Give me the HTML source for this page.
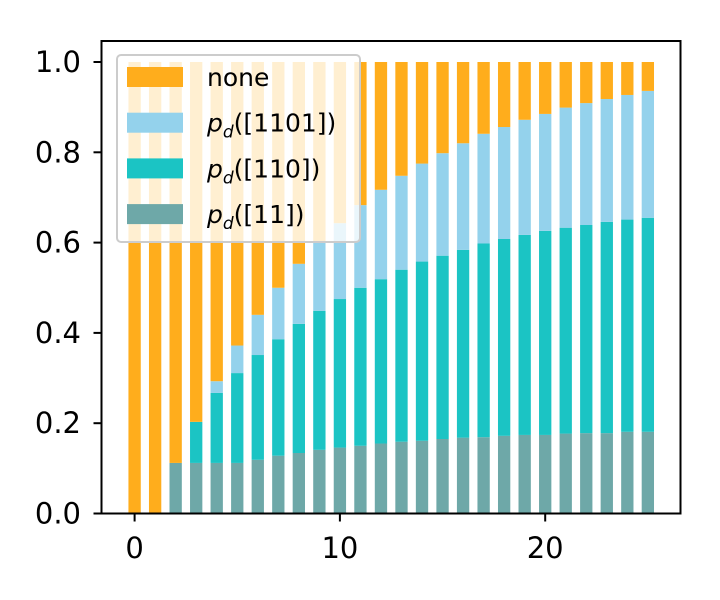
<!DOCTYPE html>
<html><head><meta charset="utf-8"><style>
body{margin:0;background:#fff}
svg{display:block;font-family:"DejaVu Sans","Liberation Sans",sans-serif}
</style></head><body>
<svg id="chart" width="720" height="600" viewBox="0 0 720 600" xmlns="http://www.w3.org/2000/svg">
<g id="bars"></g>
<g id="axes"></g>
<g id="legend"></g>
</svg>
<script>
const categories = [0,1,2,3,4,5,6,7,8,9,10,11,12,13,14,15,16,17,18,19,20,21,22,23,24,25];
const s11 = [0,0,0.112,0.112,0.112,0.112,0.119,0.128,0.134,0.141,0.146,0.150,0.155,0.159,0.161,0.165,0.168,0.169,0.172,0.174,0.174,0.177,0.178,0.178,0.181,0.181];
const s110 = [0,0,0,0.091,0.155,0.199,0.232,0.258,0.286,0.308,0.329,0.350,0.364,0.381,0.397,0.406,0.416,0.429,0.436,0.443,0.452,0.456,0.461,0.468,0.470,0.474];
const s1101 = [0,0,0,0,0.026,0.061,0.089,0.114,0.133,0.151,0.168,0.183,0.198,0.208,0.217,0.227,0.236,0.243,0.248,0.255,0.259,0.266,0.270,0.272,0.276,0.281];
const yTicks = [0.0,0.2,0.4,0.6,0.8,1.0];
const xTicks = [0,10,20];
const colors = {none:"#ffad1c", s1101:"#94d2ec", s110:"#1bc4c4", s11:"#6ea8a8"};

const L=101.5,R=680.5,T=41,B=513.5;
const xs = v => 134.6 + v*20.53;
const ys = v => B - v*451.5;
const NS="http://www.w3.org/2000/svg";
function mk(tag, attrs, parent){const e=document.createElementNS(NS,tag);for(const k in attrs)e.setAttribute(k,attrs[k]);parent.appendChild(e);return e;}
const gb=document.getElementById('bars'), ga=document.getElementById('axes'), gl=document.getElementById('legend');
const bw=0.6*20.53;
categories.forEach((c,i)=>{
  const segs=[["s11",s11[i]],["s110",s110[i]],["s1101",s1101[i]]];
  let base=0;
  segs.forEach(([k,v])=>{
    if(v>0){
      const r=mk('rect',{x:xs(c)-bw/2,y:ys(base+v),width:bw,height:ys(base)-ys(base+v),fill:colors[k]},gb);
      
      
    }
    base+=v;
  });
  const r=mk('rect',{x:xs(c)-bw/2,y:ys(1),width:bw,height:ys(base)-ys(1),fill:colors.none},gb);
  
  
});
const frame=mk('rect',{x:L,y:T,width:R-L,height:B-T,fill:'none',stroke:'#000','stroke-width':2},ga);


yTicks.forEach(v=>{
  mk('line',{x1:L-8,x2:L,y1:ys(v),y2:ys(v),stroke:'#000','stroke-width':2},ga);
  const t=mk('text',{x:81,y:ys(v)+10,'text-anchor':'end','font-size':29},ga);
  t.textContent=v.toFixed(1);
  
  
});
xTicks.forEach(v=>{
  mk('line',{x1:xs(v),x2:xs(v),y1:B,y2:B+8,stroke:'#000','stroke-width':2},ga);
  const t=mk('text',{x:xs(v),y:558,'text-anchor':'middle','font-size':29},ga);
  t.textContent=v;
  
  
});
const lb=mk('rect',{x:117,y:55,width:243,height:187,rx:4,fill:'#fff','fill-opacity':0.8,stroke:'#ccc','stroke-width':2},gl);


const lcol=[colors.none,colors.s1101,colors.s110,colors.s11];
const lab=['none','[1101])','[110])','[11])'];
[0,1,2,3].forEach(i=>{
  const y=67+i*45.7;
  const p=mk('rect',{x:127,y:y,width:56,height:20,fill:lcol[i]},gl);
  
  
  const t=mk('text',{x:207,y:y+19,'font-size':25},gl);
  
  
  if(i===0){t.textContent='none';}
  else{
    const a=mk('tspan',{'font-style':'italic'},t);a.textContent='p';
    const b=mk('tspan',{'font-style':'italic','font-size':17,dy:6},t);b.textContent='d';
    const c=mk('tspan',{dy:-6},t);c.textContent='('+lab[i];
  }
});
</script>
</body></html>
